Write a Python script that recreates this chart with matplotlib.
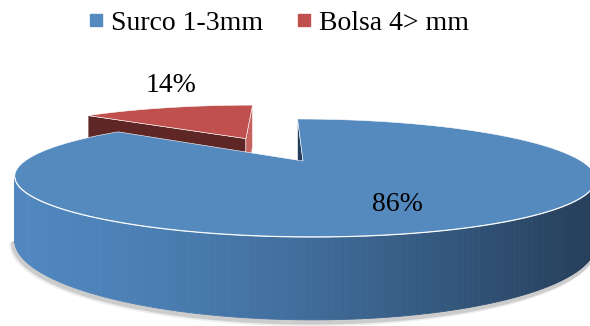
import numpy as np
import matplotlib.pyplot as plt
from matplotlib.patches import Polygon
from matplotlib.collections import PolyCollection
from matplotlib.lines import Line2D
from matplotlib.colors import to_rgb

labels = ['Surco 1-3mm', 'Bolsa 4> mm']
values = [86, 14]
pct_labels = ['86%', '14%']
top_colors = ['#558abf', '#c0504d']
wall_light = ['#5087bf', '#c0504d']
wall_dark = ['#253e5a', '#5e2624']
explode = [0.0, 0.52]

# fake 3d camera, everything in pixel units
cx, cy = 303, 161
A, B = 278, 54.1
k = 0.288          # perspective strength
sx = -7            # slight skew, camera a bit to the left
H = 59             # pie thickness
cam = np.array([-0.05, -1 / k])


def proj(X, Z, drop=0.0):
    X = np.asarray(X, float)
    Z = np.asarray(Z, float)
    w = 1 + k * Z
    return cx + (A * X + sx * Z) / w, cy - (B * Z - drop * H) / w


def mix(c1, c2, t):
    c1, c2 = np.array(to_rgb(c1)), np.array(to_rgb(c2))
    return tuple(c1 + (c2 - c1) * t)


fig = plt.figure(figsize=(5.9, 3.26), dpi=100)
ax = fig.add_axes([0, 0, 1, 1])
ax.set_xlim(0, 590)
ax.set_ylim(326, 0)
ax.axis('off')

total = sum(values)
starts = 90 - 360 * np.cumsum([0] + values[:-1]) / total
spans = 360 * np.array(values) / total

slices = []
for i in range(len(values)):
    t1 = starts[i]
    t2 = t1 - spans[i]
    mid = np.radians((t1 + t2) / 2)
    ox, oz = explode[i] * np.cos(mid), explode[i] * np.sin(mid)
    slices.append((i, t1, t2, mid, ox, oz))

# far slices first
slices.sort(key=lambda s: -s[5])

for i, t1, t2, mid, ox, oz in slices:
    th = np.radians(np.linspace(t1, t2, 300))
    rx, rz = ox + np.cos(th), oz + np.sin(th)

    # radial cut faces
    for t, sgn in ((t1, 1), (t2, -1)):
        n = np.array([np.cos(np.radians(t + sgn * 90)), np.sin(np.radians(t + sgn * 90))])
        ex, ez = ox + np.cos(np.radians(t)), oz + np.sin(np.radians(t))
        fmid = np.array([(ox + ex) / 2, (oz + ez) / 2])
        if np.dot(n, cam - fmid) <= 0:
            continue
        xs = [ox, ex, ex, ox]
        zs = [oz, ez, ez, oz]
        ds = [0, 0, 1, 1]
        px, py = proj(xs, zs, np.array(ds))
        col = mix(top_colors[i], 'white', 0.1) if n[0] > 0 else wall_dark[i]
        ax.add_patch(Polygon(np.column_stack([px, py]), closed=True, fc=col,
                             ec='white', lw=0.4, zorder=2))

    # outer wall, only the part facing the camera
    vis = np.sin(th) < -k + 0.01
    if vis.any():
        vx, vz = rx[vis], rz[vis]
        tx, ty = proj(vx, vz)
        bx, by = proj(vx, vz, 1.0)
        # soft shadow under the wall
        ax.plot(bx - 1, by + 2, color='#888888', lw=4, alpha=0.35,
                solid_capstyle='round', zorder=1)
        ax.plot(bx - 2, by + 3, color='#aaaaaa', lw=5, alpha=0.2,
                solid_capstyle='round', zorder=1)
        quads, cols = [], []
        for j in range(len(vx) - 1):
            quads.append([(tx[j], ty[j]), (tx[j + 1], ty[j + 1]),
                          (bx[j + 1], by[j + 1]), (bx[j], by[j])])
            t = np.clip((tx[j] - 13) / (590 - 13), 0, 1) ** 1.5
            cols.append(mix(wall_light[i], wall_dark[i], t))
        ax.add_collection(PolyCollection(quads, facecolors=cols, edgecolors=cols,
                                         linewidths=0.6, zorder=2))
        ax.plot(tx, ty, color='white', lw=0.9, alpha=0.9, zorder=4)

    # top face
    px, py = proj(np.r_[ox, rx], np.r_[oz, rz])
    ax.add_patch(Polygon(np.column_stack([px, py]), closed=True,
                         fc=top_colors[i], ec='white', lw=0.4, zorder=3))

    # percentage label (offsets in display pixels, +y is up)
    if explode[i] > 0:
        lx, ly = proj(ox + np.cos(mid), oz + np.sin(mid))
        ax.annotate(pct_labels[i], (lx, ly), xytext=(4, 22), textcoords='offset pixels',
                    ha='center', va='center', fontsize=20,
                    family='Liberation Serif', zorder=5)
    else:
        lx, ly = proj(ox + 0.686 * np.cos(mid), oz + 0.686 * np.sin(mid))
        ax.annotate(pct_labels[i], (lx, ly), xytext=(-10, -3), textcoords='offset pixels',
                    ha='center', va='center', fontsize=20,
                    family='Liberation Serif', zorder=5)

handles = [Line2D([], [], marker='s', ls='', color=c, markersize=8)
           for c in top_colors]
ax.legend(handles, labels, loc='center', bbox_to_anchor=(279 / 590, 1 - 23 / 326),
          ncol=2, frameon=False, handlelength=0.5, handletextpad=0.3,
          columnspacing=1.2, prop={'family': 'Liberation Serif', 'size': 20})

fig.savefig('out.png', dpi=100)
